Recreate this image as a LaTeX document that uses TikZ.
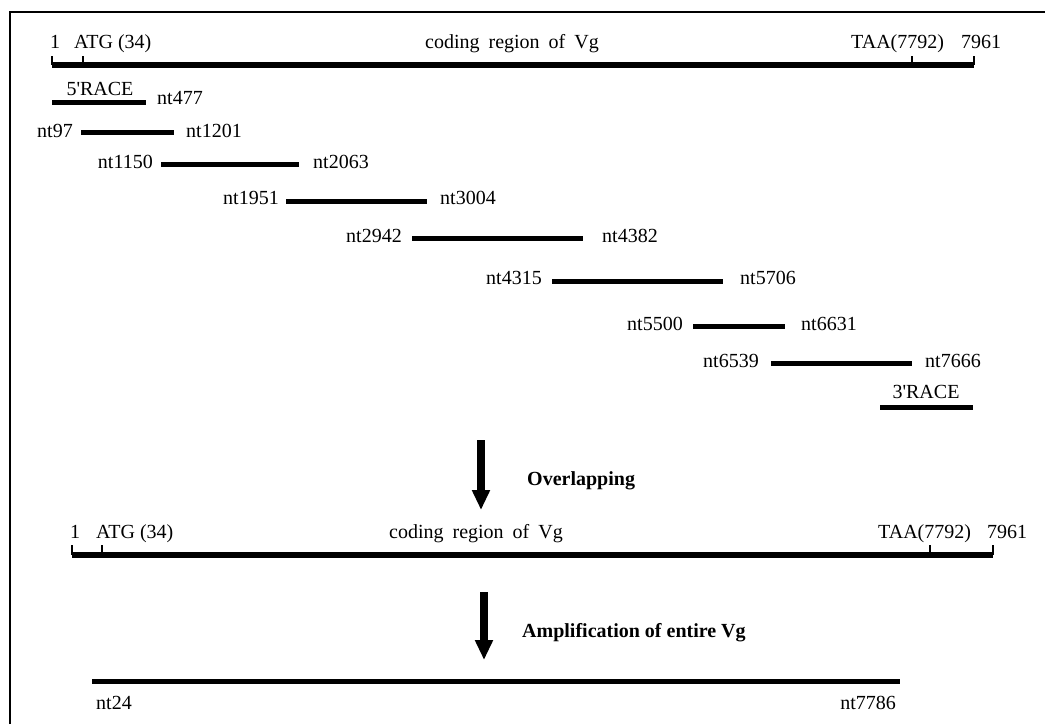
\documentclass[tikz,border=0pt]{standalone}
\usepackage{fontspec}
\setmainfont{Liberation Serif}
\usepackage{tikz}
\usetikzlibrary{arrows.meta, positioning}

\begin{document}
\begin{tikzpicture}[
    x=1pt, y=-1pt,
    lab/.style={inner sep=0pt, font=\fontsize{20}{24}\selectfont},
    boldlab/.style={lab, font=\fontsize{20}{24}\selectfont\bfseries},
    spaced/.style={lab, execute at begin node={\spaceskip=0.45em\relax}},
    genebar/.style={line width=6pt},
    frag/.style={line width=5pt},
    tickmark/.style={line width=1.4pt},
    arrow/.style={-{Triangle[length=20pt, width=17pt]}, line width=8pt},
]
\useasboundingbox (0,0) rectangle (1045,724);
\draw[line width=2pt] (10,724) -- (10,12) -- (1045,12);
% full length gene, before overlapping
\draw[genebar] (52,65) -- (974,65);
\foreach \x in {52,83,912,974} \draw[tickmark] (\x,56) -- (\x,65);
\node[lab, anchor=base west] (one1) at (50,48) {1};
\node[lab, anchor=base west] (atg1) at (74,48) {ATG (34)};
\node[spaced, anchor=base] (cod1) at (512,48) {coding region of Vg};
\node[lab, anchor=base west] (taa1) at (851,48) {TAA(7792)};
\node[lab, anchor=base west] (end1) at (961,48) {7961};
% cloned fragments
\draw[frag] (52,102) -- (146,102);
\node[lab, anchor=base] (race5) at (100,95) {5\textquotesingle RACE};
\node[lab, anchor=base west] (nt477) at (157,104) {nt477};
\draw[frag] (81,132) -- (174,132);
\node[lab, anchor=base east] (nt97) at (73,137) {nt97};
\node[lab, anchor=base west] (nt1201) at (186,137) {nt1201};
\draw[frag] (161,164) -- (299,164);
\node[lab, anchor=base east] (nt1150) at (153,168) {nt1150};
\node[lab, anchor=base west] (nt2063) at (313,168) {nt2063};
\draw[frag] (286,201) -- (427,201);
\node[lab, anchor=base east] (nt1951) at (279,204) {nt1951};
\node[lab, anchor=base west] (nt3004) at (440,204) {nt3004};
\draw[frag] (412,238) -- (583,238);
\node[lab, anchor=base east] (nt2942) at (402,242) {nt2942};
\node[lab, anchor=base west] (nt4382) at (602,242) {nt4382};
\draw[frag] (552,281) -- (723,281);
\node[lab, anchor=base east] (nt4315) at (542,284) {nt4315};
\node[lab, anchor=base west] (nt5706) at (740,284) {nt5706};
\draw[frag] (693,326) -- (785,326);
\node[lab, anchor=base east] (nt5500) at (683,330) {nt5500};
\node[lab, anchor=base west] (nt6631) at (801,330) {nt6631};
\draw[frag] (771,363) -- (912,363);
\node[lab, anchor=base east] (nt6539) at (759,367) {nt6539};
\node[lab, anchor=base west] (nt7666) at (925,367) {nt7666};
\draw[frag] (880,407) -- (973,407);
\node[lab, anchor=base] (race3) at (926,398) {3\textquotesingle RACE};
% overlapping step
\coordinate (ovTop) at (481,440);
\coordinate (ovTip) at (481,510);
\draw[arrow] (ovTop) -- (ovTip);
\node[boldlab, anchor=base west] (overlap) at (527,485) {Overlapping};
% assembled gene
\draw[genebar] (72,555) -- (993,555);
\foreach \x in {72,102,930,993} \draw[tickmark] (\x,545) -- (\x,555);
\node[lab, anchor=base west] (one2) at (70,538) {1};
\node[lab, anchor=base west] (atg2) at (96,538) {ATG (34)};
\node[spaced, anchor=base] (cod2) at (476,538) {coding region of Vg};
\node[lab, anchor=base west] (taa2) at (878,538) {TAA(7792)};
\node[lab, anchor=base west] (end2) at (987,538) {7961};
% amplification step
\coordinate (amTop) at (484,592);
\coordinate (amTip) at (484,660);
\draw[arrow] (amTop) -- (amTip);
\node[boldlab, anchor=base west] (amplif) at (522,637) {Amplification of entire Vg};
\draw[frag] (92,681) -- (900,681);
\node[lab, anchor=base west] (nt24) at (96,709) {nt24};
\node[lab, anchor=base east] (nt7786) at (896,709) {nt7786};
\end{tikzpicture}
\end{document}
